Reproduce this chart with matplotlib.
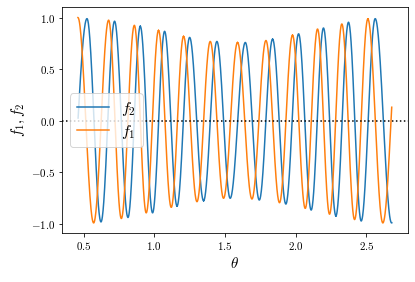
import numpy as np
import matplotlib
matplotlib.use("Agg")
import matplotlib.pyplot as plt

plt.rcParams['mathtext.fontset'] = 'cm'
plt.rcParams['font.family'] = 'serif'
plt.rcParams['font.serif'] = ['cmr10', 'DejaVu Serif']
plt.rcParams['axes.formatter.use_mathtext'] = True

# domain of the curves
theta_start = 0.460
theta_end = 2.681

# f2 (blue) extrema (theta, value); first and last are just outside the domain
f2_theta = [0.396, 0.524, 0.623, 0.719, 0.814, 0.901, 0.988, 1.073, 1.161, 1.250,
            1.349, 1.443, 1.537, 1.644, 1.743, 1.837, 1.931, 2.021, 2.110, 2.197,
            2.285, 2.374, 2.464, 2.563, 2.679, 2.780]
f2_value = [-0.99, 0.99, -0.980, 0.965, -0.937, 0.916, -0.892, 0.867, -0.826, 0.808,
            -0.775, 0.769, -0.751, 0.759, -0.768, 0.791, -0.807, 0.843, -0.865, 0.899,
            -0.922, 0.955, -0.971, 0.99, -0.99, 0.99]

# f1 (orange) extrema
f1_theta = [0.460, 0.571, 0.677, 0.767, 0.859, 0.943, 1.030, 1.120, 1.207, 1.302,
            1.396, 1.490, 1.589, 1.691, 1.790, 1.886, 1.978, 2.068, 2.155, 2.240,
            2.327, 2.417, 2.511, 2.617, 2.733]
f1_value = [1.0, -0.99, 0.975, -0.947, 0.925, -0.892, 0.876, -0.839, 0.818, -0.784,
            0.769, -0.751, 0.759, -0.758, 0.778, -0.794, 0.830, -0.849, 0.889, -0.905,
            0.938, -0.957, 0.987, -0.99, 0.99]


def curve(th, vals, lo, hi):
    xs, ys = [], []
    for i in range(len(th) - 1):
        t0, t1 = th[i], th[i + 1]
        v0, v1 = vals[i], vals[i + 1]
        t = np.linspace(t0, t1, 60)
        v = (v0 + v1) / 2 + (v0 - v1) / 2 * np.cos(np.pi * (t - t0) / (t1 - t0))
        xs.append(t)
        ys.append(v)
    x = np.concatenate(xs)
    y = np.concatenate(ys)
    m = (x >= lo) & (x <= hi)
    return x[m], y[m]


fig = plt.figure(figsize=(415 / 72, 282 / 72), dpi=72)
ax = fig.add_axes([0.150, 0.173, 0.832, 0.801])

x2, y2 = curve(f2_theta, f2_value, theta_start, theta_end)
x1, y1 = curve(f1_theta, f1_value, theta_start, theta_end)
ax.plot(x2, y2, color='C0', lw=1.5, label='$f_2$')
ax.plot(x1, y1, color='C1', lw=1.5, label='$f_1$')
ax.axhline(0, color='k', ls=':', lw=1.5)

ax.set_xticks([0.5, 1.0, 1.5, 2.0, 2.5])
ax.set_yticks([-1.0, -0.5, 0.0, 0.5, 1.0])
ax.tick_params(labelsize=11)
ax.set_xlabel(r'$\theta$', fontsize=15)
ax.set_ylabel(r'$f_1, f_2$', fontsize=15)
ax.legend(loc='center left', fontsize=16, labelspacing=0.3)

fig.savefig('out.png', dpi=72)
